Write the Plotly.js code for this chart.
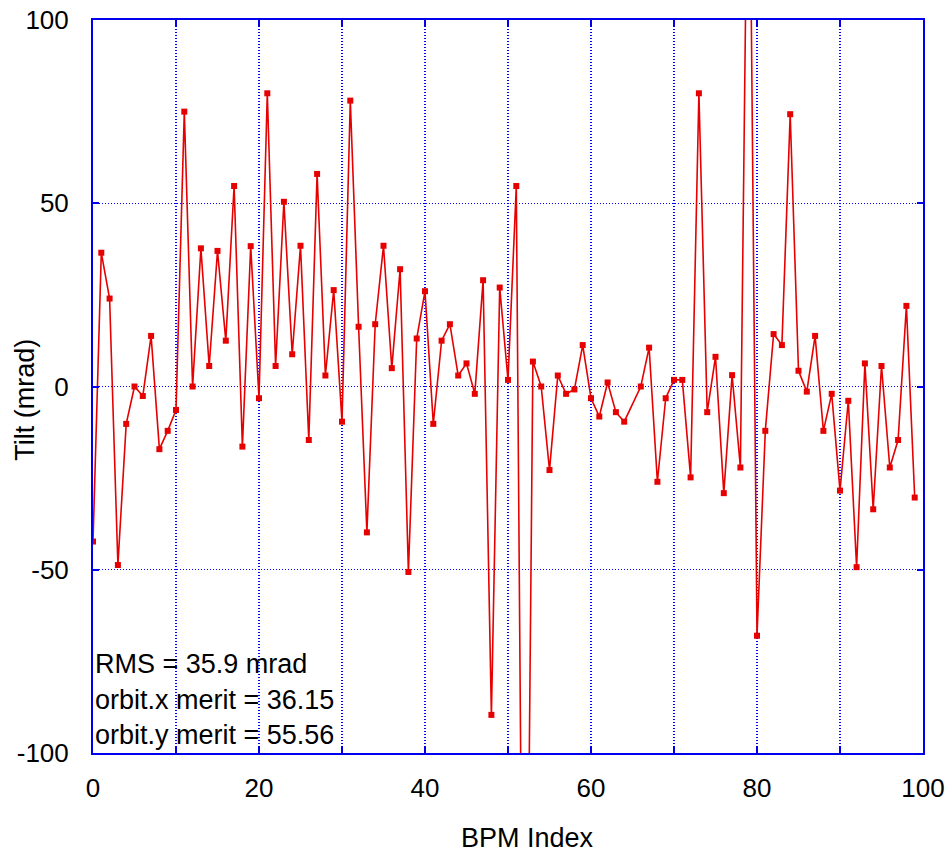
<!DOCTYPE html>
<html>
<head>
<meta charset="utf-8">
<script src="https://cdn.plot.ly/plotly-3.0.1.min.js"></script>
<style>html,body{margin:0;padding:0;background:#fff;}#chart{width:949px;height:853px;}</style>
</head>
<body>
<div id="chart"></div>
<script>
// BPM indices (index 65 has no reading in the reference)
const bpmIndex = [0,1,2,3,4,5,6,7,8,9,10,11,12,13,14,15,16,17,18,19,
  20,21,22,23,24,25,26,27,28,29,30,31,32,33,34,35,36,37,38,39,
  40,41,42,43,44,45,46,47,48,49,50,51,52,53,54,55,56,57,58,59,
  60,61,62,63,64,66,67,68,69,70,71,72,73,74,75,76,77,78,79,
  80,81,82,83,84,85,86,87,88,89,90,91,92,93,94,95,96,97,98,99];
const tilt = [-42.3,36.5,24,-48.7,-10.2,0,-2.6,13.8,-17.1,-12.1,
  -6.4,75,0,37.7,5.6,37,12.5,54.7,-16.4,38.3,
  -3.2,80,5.6,50.4,8.8,38.4,-14.6,58,3,26.3,
  -9.6,78,16.3,-39.8,17,38.4,5,32,-50.6,13.1,
  26,-10.2,12.5,17,3,6.3,-2,29,-89.6,27,
  1.8,54.7,-240,6.8,0,-22.8,3,-2,-0.8,11.3,
  -3.2,-8.2,1.1,-7,-9.6,0,10.6,-26,-3.2,1.8,
  1.8,-24.8,80,-7,8.1,-29.1,3.1,-22.1,178,
  -68,-12.1,14.3,11.3,74.3,4.3,-1.4,13.8,-12.1,-2,
  -28.4,-3.9,-49.3,6.3,-33.5,5.6,-22.1,-14.6,22,-30.3];

const xTickVals = [0,10,20,30,40,50,60,70,80,90,100];
const xTickText = ['0','','20','','40','','60','','80','','100'];
const yTickVals = [-100,-50,0,50,100];
const yTickText = ['-100','-50','0','50','100'];
const infoLines = ['RMS = 35.9 mrad','orbit.x merit = 36.15','orbit.y merit = 55.56'];
const xTitle = 'BPM Index';
const yTitle = 'Tilt (mrad)';

const blue = '#0000ee';
const red = '#e60000';
const family = '"Liberation Sans", Arial, sans-serif';
const tickFont = {family:family, size:26, color:'#000'};
const textFont = {family:family, size:27, color:'#000'};

const trace = {
  x: bpmIndex, y: tilt, type:'scatter', mode:'lines+markers',
  line:{color:red, width:1.6},
  marker:{color:red, symbol:'square', size:6},
  hoverinfo:'skip'
};

const infoY = [0.1214, 0.0723, 0.0246];
const annotations = infoLines.map((t,i)=>({
  text:t, xref:'paper', yref:'paper', x:0.0, y:infoY[i],
  xanchor:'left', yanchor:'middle', showarrow:false, font:textFont
}));
annotations.push({text:xTitle, xref:'paper', yref:'paper', x:0.523, y:-0.116,
  xanchor:'center', yanchor:'middle', showarrow:false, font:textFont});
annotations.push({text:yTitle, xref:'paper', yref:'paper', x:-0.082, y:0.482,
  xanchor:'center', yanchor:'middle', textangle:-90, showarrow:false, font:textFont});

const axisCommon = {
  showline:true, mirror:'ticks', linecolor:blue, linewidth:2,
  ticks:'inside', ticklen:6, tickwidth:2, tickcolor:blue,
  showgrid:true, gridcolor:'#0000ff', gridwidth:1.2, griddash:'1px,2px',
  zeroline:false, tickfont:tickFont
};

const layout = {
  width:949, height:853,
  margin:{l:93, r:26, t:20, b:100},
  paper_bgcolor:'#fff', plot_bgcolor:'#fff',
  showlegend:false,
  font:tickFont,
  xaxis: Object.assign({}, axisCommon, {
    range:[0,100], tickmode:'array', tickvals:xTickVals, ticktext:xTickText,
    ticklabelstandoff:11
  }),
  yaxis: Object.assign({}, axisCommon, {
    range:[-100,100], tickmode:'array', tickvals:yTickVals, ticktext:yTickText,
    ticklabelstandoff:17
  }),
  annotations: annotations
};

Plotly.newPlot('chart', [trace], layout, {displayModeBar:false, staticPlot:true});
</script>
</body>
</html>
